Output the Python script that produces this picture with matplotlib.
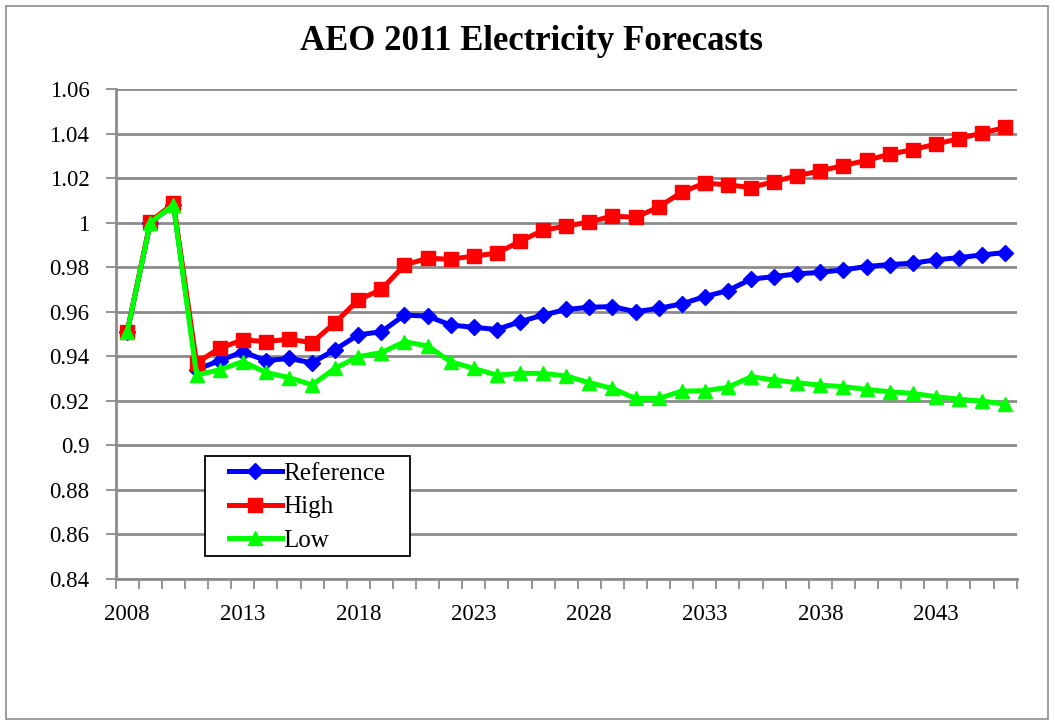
import matplotlib
matplotlib.use("Agg")
import matplotlib.pyplot as plt
from matplotlib.patches import Rectangle
from matplotlib.ticker import FixedLocator, NullFormatter, FixedFormatter

years = list(range(2008, 2047))
reference = [0.951, 1.000, 1.008, 0.934, 0.938, 0.942, 0.938, 0.939, 0.937, 0.943,
             0.9496, 0.951, 0.9585, 0.958, 0.954, 0.953, 0.952, 0.9555, 0.9585, 0.961,
             0.962, 0.9623, 0.960, 0.9615, 0.9635, 0.9668, 0.9695, 0.9746, 0.9758, 0.977,
             0.9777, 0.9788, 0.9803, 0.9812, 0.9818, 0.9833, 0.9843, 0.9855, 0.9866]
high = [0.951, 1.0005, 1.0087, 0.937, 0.9436, 0.9473, 0.9466, 0.9476, 0.9461, 0.9551,
        0.9653, 0.970, 0.981, 0.984, 0.9836, 0.985, 0.9863, 0.9916, 0.9966, 0.9985,
        1.0003, 1.003, 1.0024, 1.007, 1.0137, 1.0178, 1.017, 1.0158, 1.0185, 1.0211,
        1.0233, 1.0257, 1.028, 1.0308, 1.0328, 1.0353, 1.0378, 1.0403, 1.0428]
low = [0.951, 1.000, 1.008, 0.9316, 0.9339, 0.9376, 0.9327, 0.9304, 0.9271, 0.9346,
       0.9398, 0.9416, 0.9465, 0.9446, 0.9375, 0.9345, 0.9315, 0.9323, 0.9323, 0.9311,
       0.9281, 0.9255, 0.921, 0.921, 0.9243, 0.9245, 0.926, 0.9308, 0.9293, 0.9281,
       0.927, 0.9263, 0.9251, 0.924, 0.9233, 0.9218, 0.9207, 0.9198, 0.9185]
y_ticks = [0.84, 0.86, 0.88, 0.9, 0.92, 0.94, 0.96, 0.98, 1.0, 1.02, 1.04, 1.06]
y_labels = ["0.84", "0.86", "0.88", "0.9", "0.92", "0.94", "0.96", "0.98", "1", "1.02", "1.04", "1.06"]
x_label_years = [2008, 2013, 2018, 2023, 2028, 2033, 2038, 2043]

plt.rcParams['font.family'] = ['Liberation Serif', 'DejaVu Serif']

W, H = 1055, 725
fig = plt.figure(figsize=(W / 100, H / 100), dpi=100)
fig.patch.set_facecolor('white')
fig.add_artist(Rectangle((6 / W, 6 / H), 1042 / W, 713 / H, transform=fig.transFigure,
                         fill=False, edgecolor='#8c8c8c', linewidth=1.2))

ax = fig.add_axes([115.7 / W, 1 - 578.7 / H, (1016.7 - 115.7) / W, (578.7 - 89.2) / H])

idx = list(range(len(years)))
ax.plot(idx, reference, color='#0000FF', lw=3.6, marker='D', ms=8.5, label='Reference', zorder=3)
ax.plot(idx, high, color='#FF0000', lw=3.6, marker='s', ms=9.5, label='High', zorder=4)
ax.plot(idx, low, color='#00FF00', lw=3.6, marker='^', ms=10, label='Low', zorder=5)

ax.set_xlim(-0.5, len(years) - 0.5)
ax.set_ylim(0.84, 1.06)

ax.xaxis.set_major_locator(FixedLocator([i - 0.5 for i in range(len(years) + 1)]))
ax.xaxis.set_major_formatter(NullFormatter())
ax.xaxis.set_minor_locator(FixedLocator([years.index(y) for y in x_label_years]))
ax.xaxis.set_minor_formatter(FixedFormatter([str(y) for y in x_label_years]))
ax.tick_params(axis='x', which='major', direction='out', length=7, width=1.3, color='#8c8c8c')
ax.tick_params(axis='x', which='minor', length=0, pad=18, labelsize=16.5)

ax.set_yticks(y_ticks)
ax.set_yticklabels(y_labels)
ax.tick_params(axis='y', direction='out', length=7, width=1.3, color='#8c8c8c', pad=12, labelsize=16.5)

ax.grid(axis='y', color='#8c8c8c', lw=2)
ax.set_axisbelow(True)
for s in ['top', 'right']:
    ax.spines[s].set_visible(False)
for s in ['left', 'bottom']:
    ax.spines[s].set_color('#8c8c8c')
    ax.spines[s].set_linewidth(2)

# legend box (frame drawn separately to match the wide horizontal padding)
fig.add_artist(Rectangle((205 / W, 1 - 556 / H), 205 / W, 100 / H, transform=fig.transFigure,
                         facecolor='white', edgecolor='black', linewidth=1.3, zorder=9))
leg = fig.legend(loc='upper left', bbox_to_anchor=(229 / W, 1 - 462 / H),
                 bbox_transform=fig.transFigure,
                 fontsize=18, frameon=False, handlelength=2.1, handletextpad=0.05,
                 borderpad=0, labelspacing=0.45, borderaxespad=0)
leg.set_zorder(10)

fig.text(531 / W, 1 - 42 / H, 'AEO 2011 Electricity Forecasts', ha='center', va='center',
         fontsize=25, fontweight='bold')

fig.savefig('out.png', dpi=100)
